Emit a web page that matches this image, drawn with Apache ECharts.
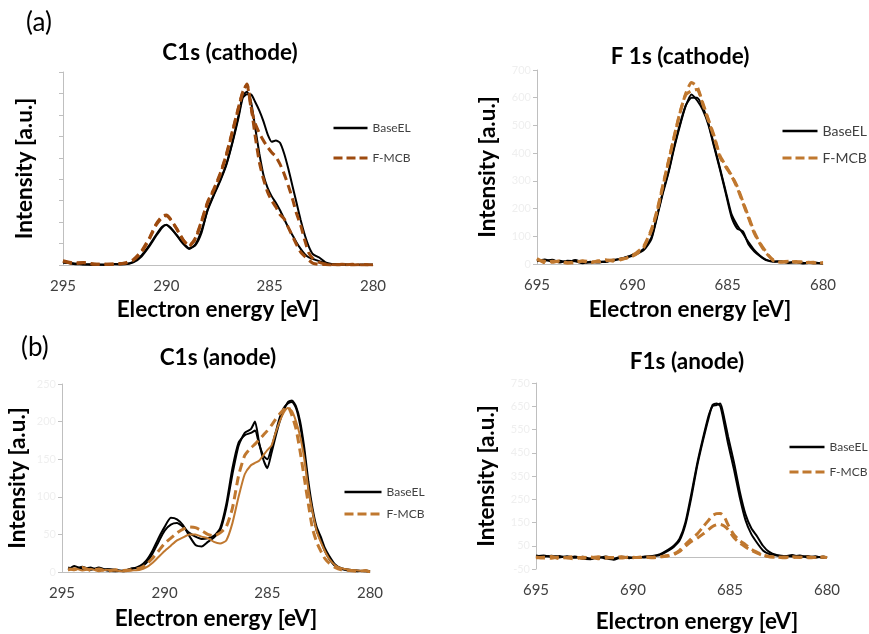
<!DOCTYPE html>
<html>
<head>
<meta charset="utf-8">
<script src="https://cdn.jsdelivr.net/npm/echarts@6/dist/echarts.min.js"></script>
<style>
  html, body { margin: 0; padding: 0; background: #ffffff; }
  #chart { width: 869px; height: 634px; }
</style>
</head>
<body>
<div id="chart"></div>
<script>
// ---------- C1s (cathode) ----------
const c1sCathodeEnergy = [295, 294.5, 294, 293.5, 293, 292.5, 292, 291.6, 291.2, 290.8, 290.5, 290.2, 290.0, 289.8, 289.5, 289.2, 288.9, 288.6, 288.3, 288.0, 287.7, 287.4, 287.1, 286.8, 286.5, 286.3, 286.1, 285.9, 285.7, 285.5, 285.3, 285.1, 284.9, 284.7, 284.5, 284.3, 284.1, 283.9, 283.7, 283.5, 283.3, 283.1, 282.9, 282.6, 282.3, 282.0, 281.5, 281.0, 280.5, 280.0];
const c1sCathodeBase1 = [15, 5, 3, 0, 2, 3, 5, 15, 45, 95, 140, 178, 186, 175, 140, 105, 78, 92, 150, 260, 330, 395, 470, 575, 700, 790, 808, 760, 640, 520, 420, 360, 320, 290, 255, 215, 175, 140, 105, 75, 50, 35, 28, 18, 8, 3, 2, 0, 2, 0];
const c1sCathodeBase2 = [10, 8, 2, 4, 0, 5, 3, 12, 40, 90, 135, 175, 188, 172, 138, 100, 75, 95, 160, 255, 325, 390, 465, 570, 690, 780, 796, 795, 760, 720, 670, 610, 575, 580, 570, 520, 450, 370, 290, 210, 140, 85, 50, 35, 12, 5, 3, 1, 0, 2];
const c1sCathodeFmcb1 = [20, 10, 12, 3, 5, 2, 10, 25, 65, 130, 190, 228, 233, 215, 170, 120, 88, 120, 200, 290, 350, 420, 510, 620, 735, 805, 844, 740, 600, 480, 400, 340, 300, 270, 235, 215, 175, 135, 95, 60, 40, 22, 8, 3, 2, 0, 3, 0, 2, 0];
const c1sCathodeFmcb2 = [18, 6, 10, 5, 2, 6, 8, 22, 60, 125, 185, 222, 230, 212, 168, 118, 90, 125, 205, 295, 355, 425, 515, 625, 738, 808, 840, 730, 660, 615, 580, 550, 525, 505, 470, 425, 370, 310, 240, 185, 115, 55, 30, 12, 5, 2, 0, 3, 0, 1];

// ---------- F 1s (cathode) ----------
const f1sCathodeEnergy = [695, 694.6, 694.2, 693.8, 693.4, 693, 692.6, 692.2, 691.8, 691.4, 691, 690.6, 690.2, 689.8, 689.4, 689.0, 688.7, 688.4, 688.1, 687.8, 687.5, 687.2, 686.9, 686.6, 686.3, 686.0, 685.7, 685.4, 685.1, 684.8, 684.5, 684.2, 683.9, 683.6, 683.3, 683.0, 682.6, 682.2, 681.8, 681.4, 681, 680.5, 680];
const f1sCathodeBase1 = [15, 12, 15, 5, 12, 10, 3, 8, 5, 10, 12, 20, 25, 35, 50, 90, 170, 255, 330, 420, 500, 570, 612, 590, 555, 500, 420, 340, 255, 170, 128, 118, 70, 45, 28, 14, 10, 8, 5, 7, 4, 3, 2];
const f1sCathodeBase2 = [10, 16, 8, 12, 6, 14, 6, 5, 9, 7, 15, 18, 28, 38, 55, 95, 175, 260, 335, 425, 505, 572, 600, 600, 565, 505, 425, 345, 262, 180, 140, 110, 78, 50, 30, 16, 8, 10, 4, 6, 2, 5, 1];
const f1sCathodeFmcb1 = [20, 5, 10, 8, 3, 8, 10, 4, 12, 15, 10, 18, 22, 35, 60, 120, 190, 280, 370, 460, 545, 615, 655, 640, 580, 520, 460, 390, 355, 320, 280, 225, 170, 115, 75, 45, 12, 8, 10, 6, 8, 4, 5];
const f1sCathodeFmcb2 = [15, 10, 6, 12, 5, 4, 12, 8, 8, 12, 14, 15, 25, 40, 65, 125, 195, 285, 372, 462, 548, 610, 625, 630, 575, 515, 455, 385, 350, 318, 275, 220, 165, 110, 72, 40, 15, 6, 8, 9, 5, 6, 3];

// ---------- C1s (anode) ----------
const c1sAnodeEnergy = [294.7, 294.4, 294.0, 293.6, 293.2, 292.8, 292.4, 292.0, 291.6, 291.2, 290.9, 290.6, 290.3, 290.0, 289.7, 289.4, 289.1, 288.8, 288.5, 288.2, 287.9, 287.6, 287.3, 287.0, 286.7, 286.4, 286.1, 285.8, 285.6, 285.4, 285.2, 285.0, 284.8, 284.6, 284.4, 284.2, 284.0, 283.8, 283.6, 283.4, 283.2, 283.0, 282.8, 282.6, 282.4, 282.2, 282.0, 281.7, 281.4, 281.0, 280.6, 280.2, 280.0];
const c1sAnodeBase1 = [6, 4, 7, 3, 6, 2, 1, 2, 4, 8, 15, 28, 45, 60, 72, 70, 62, 48, 36, 34, 40, 46, 55, 85, 130, 168, 185, 190, 200, 172, 150, 138, 158, 180, 200, 215, 226, 228, 220, 200, 165, 120, 85, 60, 47, 32, 22, 10, 5, 3, 2, 1, 0];
const c1sAnodeBase2 = [3, 8, 4, 6, 2, 4, 3, 1, 5, 6, 12, 24, 40, 55, 63, 65, 60, 52, 47, 44, 45, 48, 58, 90, 138, 172, 182, 185, 188, 170, 155, 150, 165, 185, 205, 218, 224, 226, 218, 195, 158, 112, 80, 55, 42, 28, 18, 8, 4, 2, 1, 2, 1];
const c1sAnodeFmcb1 = [2, 5, 2, 4, 1, 3, 2, 1, 2, 3, 6, 12, 20, 28, 35, 42, 46, 50, 50, 47, 45, 40, 38, 42, 65, 100, 130, 142, 145, 148, 155, 162, 168, 185, 200, 212, 218, 214, 200, 180, 150, 110, 80, 55, 40, 28, 18, 9, 5, 3, 2, 1, 0];
const c1sAnodeFmcb2 = [4, 3, 6, 2, 4, 1, 3, 2, 3, 5, 10, 18, 28, 38, 45, 52, 57, 60, 59, 55, 50, 48, 52, 60, 85, 128, 155, 165, 170, 176, 182, 188, 195, 203, 210, 216, 220, 208, 190, 160, 125, 90, 58, 40, 28, 18, 12, 6, 3, 2, 1, 2, 0];

// ---------- F1s (anode) ----------
const f1sAnodeEnergy = [695, 694.6, 694.2, 693.8, 693.4, 693.0, 692.6, 692.2, 691.8, 691.4, 691.0, 690.6, 690.2, 689.8, 689.4, 689.0, 688.6, 688.2, 687.9, 687.6, 687.3, 687.0, 686.7, 686.4, 686.1, 685.9, 685.7, 685.5, 685.3, 685.1, 684.8, 684.5, 684.2, 683.9, 683.6, 683.3, 683.0, 682.6, 682.2, 681.8, 681.4, 681.0, 680.6, 680.2, 680.0];
const f1sAnodeBase1 = [5, 8, 2, 6, -3, 4, -6, -8, 2, -5, -10, 0, -4, 2, 0, 5, 10, 28, 45, 72, 140, 255, 390, 500, 600, 655, 662, 650, 575, 490, 380, 260, 160, 100, 62, 30, 15, 8, 5, 10, 2, 6, -2, 4, 0];
const f1sAnodeBase2 = [8, 3, 7, 0, 5, -2, 3, -5, -3, 4, -6, 3, 1, -2, 4, 6, 14, 32, 50, 80, 150, 270, 400, 510, 610, 650, 655, 662, 600, 520, 410, 285, 185, 125, 90, 50, 25, 10, 6, 4, 8, 0, 5, -3, 2];
const f1sAnodeFmcb1 = [2, -3, 4, -5, 0, 3, -4, 2, -6, 1, -2, 3, -3, 0, 2, 1, 3, 8, 15, 30, 55, 80, 100, 130, 160, 180, 188, 189, 175, 140, 98, 72, 55, 35, 22, 10, 4, 2, -2, 3, 0, 2, -1, 1, 0];
const f1sAnodeFmcb2 = [-2, 1, -4, 2, -3, -6, 1, -2, 3, -4, 0, -3, 2, -1, 0, -2, 2, 6, 12, 25, 48, 68, 82, 100, 120, 133, 140, 142, 135, 120, 85, 62, 45, 30, 18, 8, 3, 0, 2, -1, 1, -2, 0, 2, -1];

const FONT = 'Lato';
const AXIS_GREY = '#bfbfbf';
const BLACK = '#000000';
const BROWN_DARK = '#9e4b0f';
const BROWN = '#c0782f';

function pairs(xs, ys) { return xs.map((x, i) => [x, ys[i]]); }

function xAxisFor(grid, lo, hi, gap, padLeft) {
  return {
    type: 'value', gridIndex: grid, min: lo, max: hi, interval: 5, inverse: true,
    name: 'Electron energy [eV]', nameLocation: 'middle', nameGap: gap,
    nameTextStyle: { fontFamily: FONT, fontSize: 22.5, fontWeight: 'bold', color: '#000', padding: [0, 0, 0, padLeft] },
    axisLine: { onZero: true, lineStyle: { color: AXIS_GREY, width: 1 } },
    axisTick: { show: false },
    splitLine: { show: false },
    axisLabel: { fontFamily: FONT, fontSize: 15, color: '#404040', margin: 14 }
  };
}
function yAxisFor(grid, lo, hi, step, gap, showLabels) {
  return {
    type: 'value', gridIndex: grid, min: lo, max: hi, interval: step,
    name: 'Intensity [a.u.]', nameLocation: 'middle', nameGap: gap,
    nameTextStyle: { fontFamily: FONT, fontSize: 22.5, fontWeight: 'bold', color: '#000' },
    axisLine: { show: true, lineStyle: { color: AXIS_GREY, width: 1 } },
    axisTick: { show: true, length: 4, lineStyle: { color: AXIS_GREY } },
    splitLine: { show: false },
    axisLabel: { show: showLabels, fontFamily: FONT, fontSize: 11, color: '#efefef', margin: 6 }
  };
}
function lineSeries(name, grid, data, color, dashed, width) {
  return {
    type: 'line', name: name, xAxisIndex: grid, yAxisIndex: grid,
    data: data, showSymbol: false, symbol: 'none', smooth: 0.2,
    lineStyle: { color: color, width: width, type: dashed ? [9, 5] : 'solid' },
    itemStyle: { color: color },
    emphasis: { disabled: true }, animation: false, z: dashed ? 3 : 2
  };
}
function legendFor(left, top, gap, size, brown, width) {
  return {
    orient: 'vertical', left: left, top: top, padding: 0, itemGap: gap, itemWidth: width, itemHeight: 12,
    textStyle: { fontFamily: FONT, fontSize: size, color: '#404040' },
    selectedMode: false,
    data: [
      { name: 'BaseEL', lineStyle: { color: BLACK, width: 2.5, type: 'solid' }, itemStyle: { color: 'transparent', borderWidth: 0, opacity: 0 } },
      { name: 'F-MCB', lineStyle: { color: brown, width: 3, type: [9, 4] }, itemStyle: { color: 'transparent', borderWidth: 0, opacity: 0 } }
    ]
  };
}

const titleStyle = { fontFamily: FONT, fontSize: 22.5, fontWeight: 'bold', color: '#000' };
const tagStyle = { fontFamily: FONT, fontSize: 26, fontWeight: 'normal', color: '#000' };

const option = {
  backgroundColor: '#ffffff',
  animation: false,
  title: [
    { text: '(a)', left: 26, top: 10, padding: 0, textStyle: tagStyle },
    { text: '(b)', left: 21, top: 335, padding: 0, textStyle: tagStyle },
    { text: 'C1s (cathode)', left: 230, top: 41, padding: 0, textAlign: 'center', textStyle: titleStyle },
    { text: 'F 1s (cathode)', left: 680, top: 45, padding: 0, textAlign: 'center', textStyle: titleStyle },
    { text: 'C1s (anode)', left: 218, top: 346, padding: 0, textAlign: 'center', textStyle: titleStyle },
    { text: 'F1s (anode)', left: 687, top: 350, padding: 0, textAlign: 'center', textStyle: titleStyle }
  ],
  legend: [
    legendFor(332, 122, 18, 12, BROWN_DARK, 34),
    legendFor(781, 124, 13, 14, BROWN, 35),
    legendFor(343, 486, 10, 12, BROWN, 37),
    legendFor(788, 441, 13, 12, BROWN, 35)
  ],
  grid: [
    { left: 63, top: 72, width: 310, height: 193 },
    { left: 537, top: 70, width: 286, height: 194 },
    { left: 62, top: 384, width: 308, height: 188 },
    { left: 536, top: 383, width: 291, height: 200 }
  ],
  xAxis: [
    xAxisFor(0, 280, 295, 33, 0),
    xAxisFor(1, 680, 695, 34, 20),
    xAxisFor(2, 280, 295, 35, 0),
    xAxisFor(3, 680, 695, 41, 31)
  ],
  yAxis: [
    yAxisFor(0, 0, 900, 100, 27, false),
    yAxisFor(1, 0, 700, 100, 38, true),
    yAxisFor(2, 0, 250, 50, 33, true),
    yAxisFor(3, -50, 750, 100, 38, true)
  ],
  series: [
    lineSeries('BaseEL', 0, pairs(c1sCathodeEnergy, c1sCathodeBase1), BLACK, false, 2),
    lineSeries('BaseEL', 0, pairs(c1sCathodeEnergy, c1sCathodeBase2), BLACK, false, 2),
    lineSeries('F-MCB', 0, pairs(c1sCathodeEnergy, c1sCathodeFmcb1), BROWN_DARK, true, 3),
    lineSeries('F-MCB', 0, pairs(c1sCathodeEnergy, c1sCathodeFmcb2), BROWN_DARK, true, 3),

    lineSeries('BaseEL', 1, pairs(f1sCathodeEnergy, f1sCathodeBase1), BLACK, false, 2),
    lineSeries('BaseEL', 1, pairs(f1sCathodeEnergy, f1sCathodeBase2), BLACK, false, 2),
    lineSeries('F-MCB', 1, pairs(f1sCathodeEnergy, f1sCathodeFmcb1), BROWN, true, 3),
    lineSeries('F-MCB', 1, pairs(f1sCathodeEnergy, f1sCathodeFmcb2), BROWN, true, 3),

    lineSeries('BaseEL', 2, pairs(c1sAnodeEnergy, c1sAnodeBase1), BLACK, false, 2),
    lineSeries('BaseEL', 2, pairs(c1sAnodeEnergy, c1sAnodeBase2), BLACK, false, 2),
    lineSeries('F-MCB', 2, pairs(c1sAnodeEnergy, c1sAnodeFmcb1), BROWN, false, 2),
    lineSeries('F-MCB', 2, pairs(c1sAnodeEnergy, c1sAnodeFmcb2), BROWN, true, 3),

    lineSeries('BaseEL', 3, pairs(f1sAnodeEnergy, f1sAnodeBase1), BLACK, false, 2),
    lineSeries('BaseEL', 3, pairs(f1sAnodeEnergy, f1sAnodeBase2), BLACK, false, 2),
    lineSeries('F-MCB', 3, pairs(f1sAnodeEnergy, f1sAnodeFmcb1), BROWN, true, 3),
    lineSeries('F-MCB', 3, pairs(f1sAnodeEnergy, f1sAnodeFmcb2), BROWN, true, 3)
  ]
};

const chart = echarts.init(document.getElementById('chart'), null, { renderer: 'canvas' });
chart.setOption(option);
</script>
</body>
</html>
